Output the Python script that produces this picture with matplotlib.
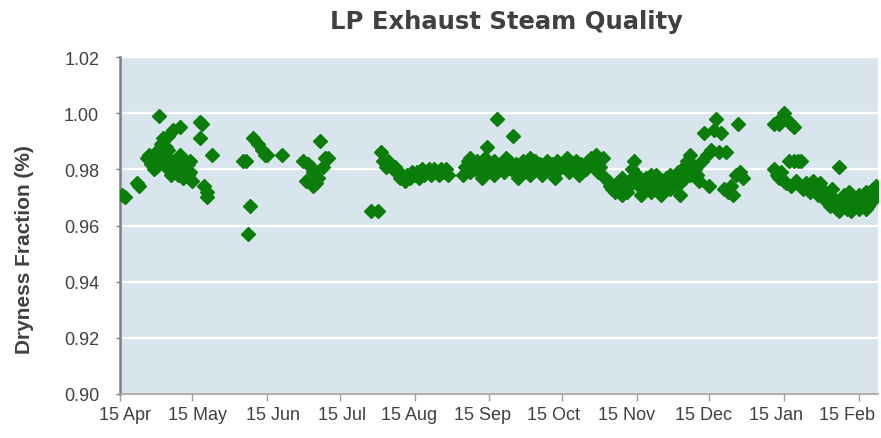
import numpy as np
import matplotlib as mat
mat.use("Agg")
from matplotlib import pyplot as plt
from matplotlib.ticker import FormatStrFormatter
from matplotlib.transforms import ScaledTranslation

# days counted from 15 Apr 2011
start = np.datetime64('2011-04-15')

spring_days = [1, 2, 7, 8, 11, 12, 13, 14, 15, 15, 16, 17, 18, 19, 20, 21, 22, 23, 24, 25,
               25, 26, 27, 28, 29, 30, 33, 33, 34, 35, 36, 36, 38, 22, 24, 26, 28]
spring_vals = [0.971, 0.970, 0.975, 0.974, 0.984, 0.985, 0.982, 0.980, 0.981, 0.986,
               0.999, 0.989, 0.991, 0.988, 0.992, 0.983, 0.994, 0.982, 0.978, 0.995,
               0.982, 0.977, 0.983, 0.978, 0.983, 0.976, 0.997, 0.991, 0.996, 0.974,
               0.970, 0.972, 0.985, 0.980, 0.983, 0.981, 0.982]

summer_days = [51, 52, 53, 54, 55, 57, 59, 60, 61, 67, 76, 77, 78, 79, 80, 80, 81, 82,
               83, 84, 85, 86, 104, 107]
summer_vals = [0.983, 0.983, 0.957, 0.967, 0.991, 0.989, 0.987, 0.985, 0.985, 0.985,
               0.983, 0.976, 0.982, 0.981, 0.979, 0.974, 0.975, 0.977, 0.990, 0.981,
               0.984, 0.984, 0.965, 0.965]

aug_days = [108, 109, 110, 111, 112, 113, 114, 115, 116, 117, 118, 119, 120, 121, 122,
            123, 124, 125, 126, 127, 128, 129, 130, 131, 132, 133, 134, 135, 136]
aug_vals = [0.986, 0.983, 0.981, 0.983, 0.982, 0.980, 0.981, 0.979, 0.977, 0.978,
            0.976, 0.978, 0.977, 0.979, 0.978, 0.979, 0.977, 0.980, 0.978, 0.979,
            0.980, 0.978, 0.980, 0.979, 0.978, 0.980, 0.979, 0.980, 0.978]

autumn_days = [142, 143, 144, 145, 146, 147, 148, 149, 150, 151, 152, 153, 154, 155, 156,
               157, 158, 159, 160, 161, 162, 163, 164, 165, 166, 167, 168, 169, 170, 171,
               172, 173, 174, 175, 176, 177, 178, 179, 180, 181, 182, 183, 184, 185, 186,
               187, 188, 189, 190, 191, 192, 193, 194, 195, 196, 197, 198, 199, 200, 201,
               202, 203, 204]
autumn_vals = [0.978, 0.981, 0.983, 0.979, 0.982, 0.980, 0.983, 0.981, 0.979, 0.984,
               0.988, 0.982, 0.980, 0.983, 0.998, 0.981, 0.982, 0.979, 0.981, 0.983,
               0.980, 0.992, 0.982, 0.979, 0.981, 0.983, 0.980, 0.982, 0.978, 0.981,
               0.983, 0.980, 0.982, 0.979, 0.981, 0.983, 0.980, 0.982, 0.981, 0.983,
               0.980, 0.982, 0.981, 0.983, 0.979, 0.982, 0.981, 0.983, 0.980, 0.982,
               0.981, 0.980, 0.983, 0.984, 0.982, 0.985, 0.979, 0.981, 0.984, 0.977,
               0.976, 0.974, 0.973]

dec_days = [205, 206, 207, 208, 209, 210, 211, 212, 213, 214, 215, 216, 217, 218, 219,
            220, 221, 222, 223, 224, 225, 226, 227, 228, 229, 230, 231, 232, 233, 234,
            235, 236, 237, 238, 239, 240, 241, 242, 243, 244, 245, 246, 247, 248, 249,
            250, 251, 252, 253, 254, 255, 256, 257, 258]
dec_vals = [0.972, 0.975, 0.973, 0.977, 0.974, 0.972, 0.976, 0.980, 0.983, 0.978,
            0.974, 0.976, 0.973, 0.977, 0.975, 0.972, 0.976, 0.978, 0.974, 0.976,
            0.973, 0.977, 0.975, 0.978, 0.974, 0.976, 0.979, 0.975, 0.980, 0.977,
            0.983, 0.985, 0.982, 0.980, 0.978, 0.976, 0.983, 0.993, 0.985, 0.974,
            0.987, 0.994, 0.998, 0.986, 0.993, 0.973, 0.986, 0.972, 0.974, 0.971,
            0.978, 0.996, 0.979, 0.977]

jan_high_days = [271, 272, 273, 274, 275, 276, 277, 278, 279]
jan_high_vals = [0.996, 0.997, 0.996, 0.998, 1.000, 0.998, 0.997, 0.996, 0.995]

feb_days = [271, 272, 273, 274, 275, 276, 277, 278, 279, 280, 281, 282, 283, 284, 285,
            286, 287, 288, 289, 290, 291, 292, 293, 294, 295, 296, 297, 298, 299, 300,
            301, 302, 303, 304, 305, 306, 307, 308, 309, 310, 311, 312, 313]
feb_vals = [0.980, 0.978, 0.977, 0.979, 0.976, 0.975, 0.983, 0.974, 0.983, 0.976,
            0.983, 0.983, 0.973, 0.975, 0.974, 0.972, 0.976, 0.974, 0.971, 0.972,
            0.973, 0.969, 0.971, 0.967, 0.970, 0.968, 0.966, 0.981, 0.969, 0.967,
            0.966, 0.968, 0.965, 0.967, 0.969, 0.966, 0.968, 0.970, 0.972, 0.967,
            0.972, 0.969, 0.974]

# second readings on busy days
extra_days = [16, 17, 19, 20, 21, 23, 25, 27, 29,
              145, 150, 155, 160, 165, 170, 175, 180, 185, 190,
              208, 212, 216, 220, 224, 228, 232, 236,
              290, 295, 298, 300, 302, 303, 306, 309, 312, 314]
extra_vals = [0.987, 0.984, 0.981, 0.987, 0.978, 0.979, 0.985, 0.980, 0.979,
              0.984, 0.977, 0.978, 0.984, 0.977, 0.984, 0.978, 0.977, 0.984, 0.978,
              0.971, 0.975, 0.971, 0.978, 0.971, 0.973, 0.971, 0.978,
              0.975, 0.973, 0.965, 0.971, 0.972, 0.969, 0.971, 0.966, 0.973, 0.971]

tick_dates = ['2011-04-15', '2011-05-15', '2011-06-15', '2011-07-15', '2011-08-15',
              '2011-09-15', '2011-10-15', '2011-11-15', '2011-12-15', '2012-01-15',
              '2012-02-15']
tick_labels = ['15 Apr', '15 May', '15 Jun', '15 Jul', '15 Aug', '15 Sep', '15 Oct',
               '15 Nov', '15 Dec', '15 Jan', '15 Feb']
label_shift_px = [5, 5, 6, 2, -5, -7, -8, -10, -6, -8, -12]

days = (spring_days + summer_days + aug_days + autumn_days + dec_days + jan_high_days
        + feb_days + extra_days)
vals = (spring_vals + summer_vals + aug_vals + autumn_vals + dec_vals + jan_high_vals
        + feb_vals + extra_vals)
dates = start + np.array(days, dtype='timedelta64[D]')

txt = '#404040'
fig = plt.figure(figsize=(8.81, 4.39), dpi=100)
ax = fig.add_axes([120/881, 1 - 395/439, 758/881, 337/439])
ax.set_facecolor('#d8e5ed')
ax.plot(dates, vals, linestyle='none', marker='D', markersize=7, color='#0a7d0a',
        markeredgecolor='#0a7d0a', markeredgewidth=1, zorder=3)

ax.set_ylim(0.90, 1.02)
ax.set_yticks(np.arange(0.90, 1.021, 0.02))
ax.yaxis.set_major_formatter(FormatStrFormatter('%.2f'))
ax.set_xlim(start, start + np.timedelta64(314, 'D'))
ax.set_xticks(np.array(tick_dates, dtype='datetime64[D]'))
ax.set_xticklabels(tick_labels)

ax.grid(axis='y', color='white', linewidth=1.6)
ax.set_axisbelow(True)
for s in ['top', 'right']:
    ax.spines[s].set_visible(False)
ax.spines['left'].set_color('#7f7f7f')
ax.spines['left'].set_linewidth(1.8)
ax.spines['bottom'].set_color('#a0a0a0')
ax.spines['bottom'].set_linewidth(1.2)
ax.tick_params(axis='x', colors='#a0a0a0', length=5, width=1, labelsize=13, labelcolor=txt, pad=4)
ax.tick_params(axis='y', colors='#7f7f7f', length=3, width=1, labelsize=13, labelcolor=txt, pad=12)
for lab in ax.get_xticklabels() + ax.get_yticklabels():
    lab.set_fontfamily('Liberation Sans')
for lab, sh in zip(ax.get_xticklabels(), label_shift_px):
    lab.set_transform(lab.get_transform() + ScaledTranslation(sh / 100, 0, fig.dpi_scale_trans))

fig.text(25/881, 1 - 250/439, 'Dryness Fraction (%)', rotation=90, ha='center', va='center',
         fontsize=15, fontweight='bold', color=txt, family='Liberation Sans')
fig.text(506/881, 1 - 22/439, 'LP Exhaust Steam Quality', ha='center', va='center',
         fontsize=17.5, fontweight='bold', color=txt, family='DejaVu Sans')

plt.savefig('out.png', dpi=100)
